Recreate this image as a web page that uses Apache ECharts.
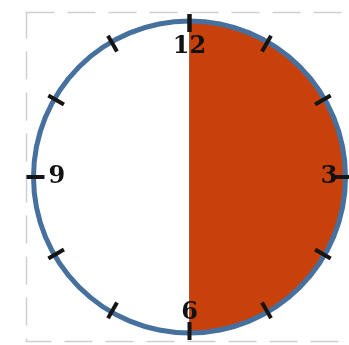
<!DOCTYPE html>
<html>
<head>
<meta charset="utf-8">
<script src="https://cdn.jsdelivr.net/npm/echarts@6/dist/echarts.min.js"></script>
<style>
   html, body { margin: 0; padding: 0; background: #fff; }
   #chart { width: 349px; height: 345px; }
</style>
</head>
<body>
<div id="chart"></div>
<script>
// clock face: 12 hours, first 6 hours shaded
const totalHours = 12;
const filledHours = [6, 6]; // shaded, unshaded
const hourValues = [0, 3, 6, 9];
const hourLabels = ['12', '3', '6', '9'];

const center = [189.5, 177];
const chart = echarts.init(document.getElementById('chart'));

const labelFont = {
   color: '#111',
   fontFamily: 'DejaVu Serif',
   fontWeight: 'bold',
   fontSize: 24
};
// nudge the 12 and 9 a bit more inside the face
const richStyles = ['top', 'right', 'bottom', 'left'];

const option = {
   animation: false,
   graphic: [
      {
         type: 'rect',
         silent: true,
         z: 0,
         shape: { x: 26.5, y: 12.5, width: 340, height: 329 },
         style: { fill: 'none', stroke: '#cfcfcf', lineWidth: 1.5, lineDash: [28, 13] }
      }
   ],
   series: [
      {
         type: 'pie',
         silent: true,
         z: 1,
         center: center,
         radius: 156,
         startAngle: 90,
         clockwise: true,
         label: { show: false },
         labelLine: { show: false },
         data: [
            { value: filledHours[0], itemStyle: { color: '#c8410b', borderColor: '#a8582c', borderWidth: 1 } },
            { value: filledHours[1], itemStyle: { color: 'rgba(0,0,0,0)' } }
         ]
      },
      {
         type: 'gauge',
         silent: true,
         z: 5,
         center: center,
         radius: 158.5,
         startAngle: 90,
         endAngle: -270,
         min: 0,
         max: totalHours,
         splitNumber: 12,
         pointer: { show: false },
         title: { show: false },
         detail: { show: false },
         axisLine: {
            lineStyle: { width: 5, color: [[1, '#46709e']] }
         },
         axisTick: { show: false },
         splitLine: {
            distance: -9.5,
            length: 18,
            lineStyle: { color: '#151515', width: 4 }
         },
         axisLabel: Object.assign({
            distance: 2,
            formatter: function (v) {
               const i = hourValues.indexOf(Math.round(v));
               if (i < 0 || v >= totalHours) return '';
               return '{' + richStyles[i] + '|' + hourLabels[i] + '}';
            },
            rich: {
               top: Object.assign({ padding: [6, 0, 0, 0] }, labelFont),
               right: Object.assign({}, labelFont),
               bottom: Object.assign({}, labelFont),
               left: Object.assign({ padding: [0, 0, 0, 7] }, labelFont)
            }
         }, labelFont),
         data: []
      }
   ]
};
chart.setOption(option);
</script>
</body>
</html>
